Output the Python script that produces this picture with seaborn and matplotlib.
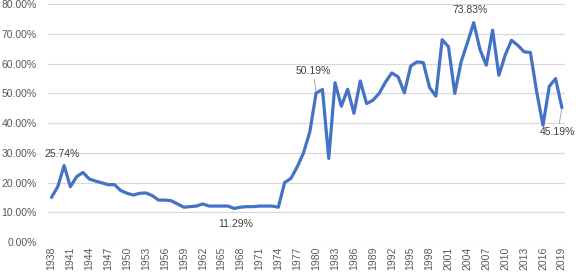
import numpy as np
import pandas as pd
import matplotlib
matplotlib.use("Agg")
import matplotlib.pyplot as plt
import seaborn as sns

# yearly values (percent)
years = list(range(1938, 2020))
values = [
    15.0, 18.6, 25.74, 18.6, 22.0, 23.4, 21.2, 20.5, 19.9, 19.3,  # 1938-1947
    19.3, 17.3, 16.4, 15.8, 16.4, 16.5, 15.6, 14.1, 14.1, 13.9,  # 1948-1957
    12.8, 11.7, 11.9, 12.1, 12.8, 12.1, 12.1, 12.1, 12.1, 11.29,  # 1958-1967
    11.7, 11.9, 11.9, 12.1, 12.1, 12.1, 11.7, 20.0, 21.4, 25.3,  # 1968-1977
    30.0, 37.1, 50.19, 51.3, 28.1, 53.6, 45.7, 51.4, 43.3, 54.2,  # 1978-1987
    46.6, 47.7, 50.0, 53.8, 56.9, 55.6, 50.2, 59.2, 60.6, 60.4,  # 1988-1997
    52.0, 49.1, 68.1, 65.7, 50.0, 60.6, 67.0, 73.83, 64.8, 59.5,  # 1998-2007
    71.3, 56.1, 62.9, 67.9, 66.2, 64.0, 63.8, 50.5, 39.3, 52.4,  # 2008-2017
    55.0, 45.19,  # 2018-2019
]
tick_years = list(range(1938, 2020, 3))

# labelled points: (year, value, label offset in pixels, leader line?)
labels = [
    (1940, 25.74, (-2, 12), False),
    (1967, 11.29, (1, -16), False),
    (1980, 50.19, (-3, 22), True),
    (2005, 73.83, (-4, 13), False),
    (2019, 45.19, (-4, -24), True),
]

df = pd.DataFrame({"Year": years, "Share": values})

sns.set_style("white")
plt.rcParams["font.family"] = ["Liberation Sans", "DejaVu Sans"]

fig = plt.figure(figsize=(5.76, 2.74), dpi=100)
ax = fig.add_axes([0.0839, 0.1168, 0.981 - 0.0839, 0.9843 - 0.1168])

sns.lineplot(data=df, x="Year", y="Share", ax=ax, color="#4472C4",
             linewidth=2.3, solid_joinstyle="round", solid_capstyle="round")

ax.set_xlim(1937.5, 2019.5)
ax.set_ylim(0, 80)
ax.set_yticks(np.arange(0, 81, 10))
ax.set_yticklabels([f"{v:.2f}%" for v in np.arange(0, 81, 10)])
ax.set_xticks(tick_years)
ax.set_xticklabels([str(y) for y in tick_years], rotation=90)
ax.tick_params(axis="both", length=0, labelsize=7.5, labelcolor="#595959")
ax.tick_params(axis="y", pad=8.5)
ax.tick_params(axis="x", pad=3.5)
ax.grid(axis="y", color="#D9D9D9", linewidth=0.9)
ax.set_axisbelow(True)
for side in ["top", "right", "left", "bottom"]:
    ax.spines[side].set_visible(False)
ax.set_xlabel("")
ax.set_ylabel("")

for yr, val, off, leader in labels:
    arrow = dict(arrowstyle="-", color="#A6A6A6", lw=0.7, shrinkA=0, shrinkB=1) if leader else None
    ax.annotate(f"{val:.2f}%", xy=(yr, val), xytext=off, textcoords="offset pixels",
                ha="center", va="center", fontsize=7.5, color="#404040",
                arrowprops=arrow)

fig.savefig("out.png", dpi=100)
